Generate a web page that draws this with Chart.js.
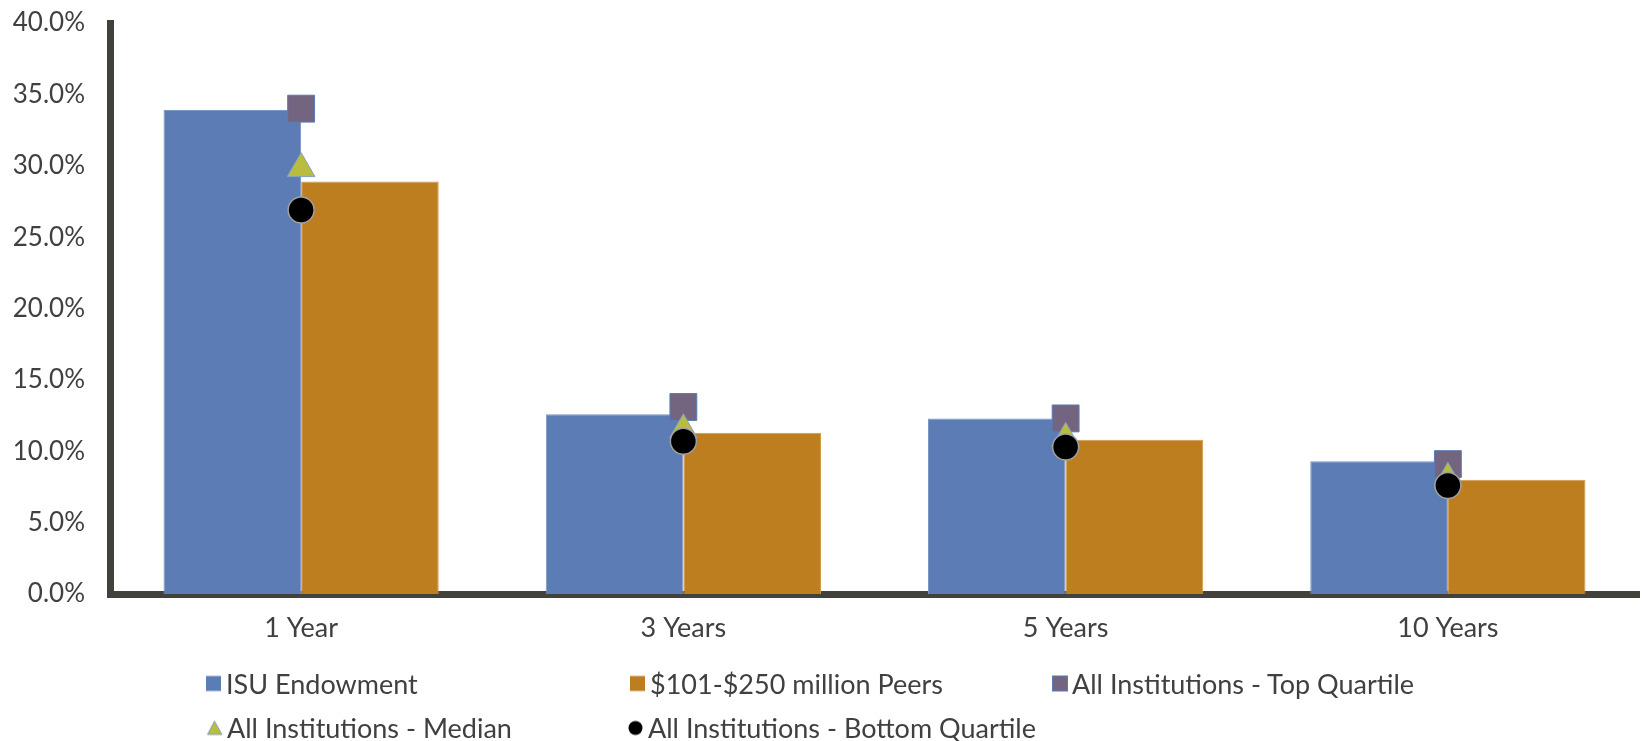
<!DOCTYPE html>
<html>
<head>
<meta charset="utf-8">
<script src="https://cdn.jsdelivr.net/npm/chart.js@4.4.0/dist/chart.umd.min.js"></script>
<style>
    body { margin: 0; background: #fff; font-family: Lato, sans-serif; }
    #wrap { position: relative; width: 1642px; height: 741px; }
    #returnsChart { position: absolute; left: 0; top: 0; }
    .legend-item {
        position: absolute;
        display: flex;
        align-items: center;
        font-size: 27px;
        color: #404040;
        white-space: nowrap;
        transform: translateY(-50%);
    }
    .legend-item canvas { margin-right: 4px; }
</style>
</head>
<body>
<div id="wrap">
    <canvas id="returnsChart" width="1642" height="741"></canvas>
    <div id="legend"></div>
</div>
<script>
// Annualized returns (%) per period
const periods = ['1 Year', '3 Years', '5 Years', '10 Years'];
const isuEndowment = [33.9, 12.6, 12.3, 9.3];
const peerGroup = [28.9, 11.3, 10.8, 8.0];
const topQuartile = [34.0, 13.1, 12.3, 9.1];
const medianReturn = [29.8, 11.5, 10.9, 8.1];
const bottomQuartile = [26.9, 10.7, 10.3, 7.6];
const yTicks = [0, 5, 10, 15, 20, 25, 30, 35, 40];

const axisColor = '#43413c';
const textColor = '#404040';
const fontFamily = 'Lato, sans-serif';

// bars sit behind the markers: higher order is drawn first
const datasets = [
    {
        type: 'bar',
        label: 'ISU Endowment',
        data: isuEndowment,
        backgroundColor: '#5b7cb4',
        borderColor: '#7a96c4',
        borderWidth: 1,
        categoryPercentage: 0.72,
        barPercentage: 1.0,
        order: 4
    },
    {
        type: 'bar',
        label: '$101-$250 million Peers',
        data: peerGroup,
        backgroundColor: '#bd7e20',
        borderColor: '#cf9a48',
        borderWidth: 1,
        categoryPercentage: 0.72,
        barPercentage: 1.0,
        order: 5
    },
    {
        type: 'line',
        label: 'All Institutions - Top Quartile',
        data: topQuartile,
        showLine: false,
        pointStyle: 'rect',
        pointRadius: 19,
        pointHoverRadius: 19,
        pointBackgroundColor: '#73657f',
        pointBorderColor: '#5b7cb4',
        pointBorderWidth: 1,
        order: 3
    },
    {
        type: 'line',
        label: 'All Institutions - Median',
        data: medianReturn,
        showLine: false,
        pointStyle: 'triangle',
        pointRadius: 16,
        pointHoverRadius: 16,
        pointBackgroundColor: '#b8bd3e',
        pointBorderColor: '#86a0c8',
        pointBorderWidth: 1,
        order: 2
    },
    {
        type: 'line',
        label: 'All Institutions - Bottom Quartile',
        data: bottomQuartile,
        showLine: false,
        pointStyle: 'circle',
        pointRadius: 13,
        pointHoverRadius: 13,
        pointBackgroundColor: '#000000',
        pointBorderColor: '#a0a0a0',
        pointBorderWidth: 1.5,
        order: 1
    }
];

const ctx = document.getElementById('returnsChart').getContext('2d');
const returnsChart = new Chart(ctx, {
    data: { labels: periods, datasets: datasets },
    options: {
        responsive: false,
        devicePixelRatio: 1,
        animation: false,
        events: [],
        layout: { autoPadding: false, padding: { top: 23, right: 3, bottom: 97, left: 0 } },
        plugins: {
            legend: { display: false },
            tooltip: { enabled: false }
        },
        scales: {
            x: {
                offset: true,
                grid: { display: false, drawTicks: false },
                border: { color: axisColor, width: 7 },
                ticks: { color: textColor, font: { family: fontFamily, size: 27 }, padding: 18 },
                afterFit: (scale) => { scale.height = 50; }
            },
            y: {
                min: 0,
                max: 40,
                grid: { display: false, drawTicks: false },
                border: { color: axisColor, width: 7 },
                ticks: {
                    color: textColor,
                    font: { family: fontFamily, size: 26 },
                    padding: 25,
                    callback: (v) => v.toFixed(1) + '%'
                },
                afterBuildTicks: (scale) => { scale.ticks = yTicks.map(v => ({ value: v })); },
                afterFit: (scale) => {
                    // fixed width; tick padding should not push the plot down
                    scale.width = 110;
                    scale.paddingTop = 0;
                    scale.paddingBottom = 0;
                }
            }
        }
    }
});

// Legend laid out in fixed columns, two rows
const legendSlots = [[206, 683], [630, 683], [1052, 683], [207, 727], [628, 727]];

function drawLegendMarker(ds) {
    const c = document.createElement('canvas');
    c.width = 16; c.height = 16;
    const g = c.getContext('2d');
    if (ds.type === 'bar') {
        g.fillStyle = ds.backgroundColor;
        g.fillRect(0, 0.5, 15, 15);
    } else if (ds.pointStyle === 'rect') {
        g.fillStyle = ds.pointBackgroundColor;
        g.strokeStyle = ds.pointBorderColor;
        g.lineWidth = 1;
        g.fillRect(0.5, 0.5, 15, 15);
        g.strokeRect(0.5, 0.5, 15, 15);
    } else if (ds.pointStyle === 'triangle') {
        g.fillStyle = ds.pointBackgroundColor;
        g.strokeStyle = ds.pointBorderColor;
        g.beginPath();
        g.moveTo(7.5, 1.5);
        g.lineTo(15, 15);
        g.lineTo(0.5, 15);
        g.closePath();
        g.fill();
        g.stroke();
    } else {
        g.fillStyle = ds.pointBackgroundColor;
        g.beginPath();
        g.arc(7.5, 8.5, 7, 0, Math.PI * 2);
        g.fill();
    }
    return c;
}

function renderLegend() {
    const container = document.getElementById('legend');
    container.innerHTML = '';
    returnsChart.data.datasets.forEach((ds, i) => {
        const item = document.createElement('div');
        item.className = 'legend-item';
        item.style.left = legendSlots[i][0] + 'px';
        item.style.top = legendSlots[i][1] + 'px';
        item.appendChild(drawLegendMarker(ds));
        const span = document.createElement('span');
        span.textContent = ds.label;
        item.appendChild(span);
        container.appendChild(item);
    });
}

renderLegend();
</script>
</body>
</html>
